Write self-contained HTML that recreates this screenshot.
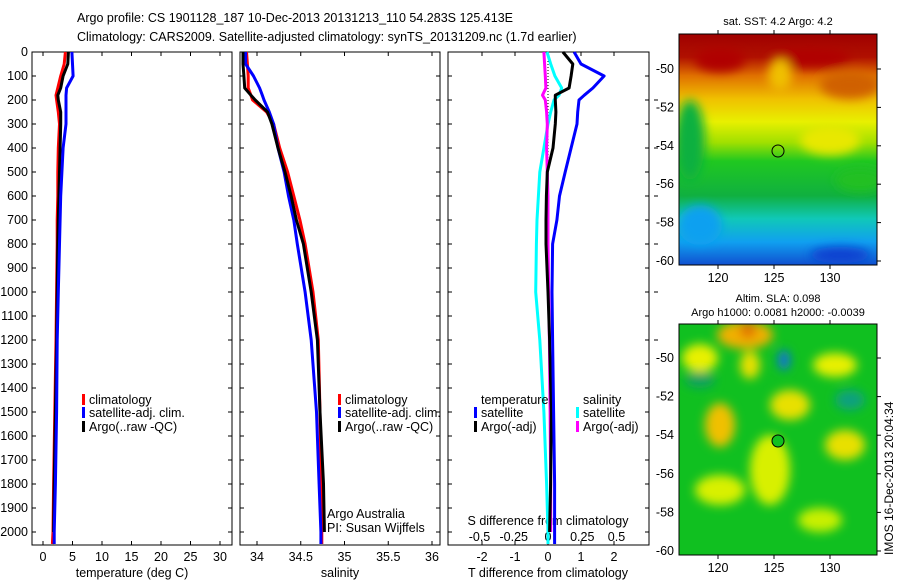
<!DOCTYPE html>
<html><head><meta charset="utf-8"><style>
body{margin:0;background:#fff;}
svg text{font-family:"Liberation Sans",sans-serif;font-size:12.5px;fill:#000;}
</style></head><body>
<svg id="c" width="900" height="580" viewBox="0 0 900 580" xmlns="http://www.w3.org/2000/svg">
<defs>
<linearGradient id="sst" x1="0" y1="0" x2="0" y2="1">
<stop offset="0" stop-color="#a00000"/><stop offset="0.1" stop-color="#b01000"/><stop offset="0.18" stop-color="#e07000"/><stop offset="0.28" stop-color="#f0c000"/><stop offset="0.38" stop-color="#e8f000"/><stop offset="0.47" stop-color="#a0e000"/><stop offset="0.55" stop-color="#20c820"/><stop offset="0.7" stop-color="#10b040"/><stop offset="0.8" stop-color="#10c8b8"/><stop offset="0.9" stop-color="#10a0f0"/><stop offset="1" stop-color="#1050d0"/>
</linearGradient>
<filter id="bl"><feGaussianBlur stdDeviation="5"/></filter>
<clipPath id="cm1"><rect x="679" y="34" width="198" height="231"/></clipPath>
<clipPath id="cm2"><rect x="679" y="324" width="198" height="231"/></clipPath>
</defs>
<text x="77" y="22">Argo profile: CS 1901128_187 10-Dec-2013 20131213_110 54.283S 125.413E</text>
<text x="77" y="41">Climatology: CARS2009. Satellite-adjusted climatology: synTS_20131209.nc (1.7d earlier)</text>
<g id="g"></g>
<!-- SST map -->
<text x="778" y="25" text-anchor="middle" font-size="11" style="font-size:11px">sat. SST: 4.2 Argo: 4.2</text>
<g clip-path="url(#cm1)">
<rect x="679" y="34" width="198" height="231" fill="url(#sst)"/>
<g filter="url(#bl)">
<ellipse cx="720" cy="60" rx="25" ry="12" fill="#b00000"/>
<ellipse cx="810" cy="58" rx="40" ry="10" fill="#b00000"/>
<ellipse cx="780" cy="75" rx="12" ry="16" fill="#f0c000"/>
<ellipse cx="850" cy="85" rx="30" ry="14" fill="#d06000"/>
<ellipse cx="690" cy="140" rx="15" ry="40" fill="#10b040"/>
<ellipse cx="830" cy="140" rx="30" ry="15" fill="#e8e800"/>
<ellipse cx="860" cy="180" rx="25" ry="12" fill="#20c020"/>
<ellipse cx="700" cy="225" rx="22" ry="20" fill="#10a0f0"/>
<ellipse cx="840" cy="255" rx="30" ry="8" fill="#1040d0"/>
</g>
</g>
<rect x="679" y="34" width="198" height="231" fill="none" stroke="#000"/>
<circle cx="778" cy="151" r="6" fill="none" stroke="#000"/>
<!-- SLA map -->
<text x="778" y="302" text-anchor="middle" style="font-size:11px">Altim. SLA: 0.098</text>
<text x="778" y="316" text-anchor="middle" style="font-size:11px">Argo h1000: 0.0081 h2000: -0.0039</text>
<g clip-path="url(#cm2)">
<rect x="679" y="324" width="198" height="231" fill="#10c020"/>
<g filter="url(#bl)">
<ellipse cx="745" cy="335" rx="28" ry="14" fill="#f0b000"/>
<ellipse cx="748" cy="330" rx="8" ry="8" fill="#e07000"/>
<ellipse cx="700" cy="358" rx="18" ry="14" fill="#e8f000"/>
<ellipse cx="750" cy="365" rx="10" ry="14" fill="#e8e000"/>
<ellipse cx="784" cy="360" rx="6" ry="10" fill="#1070e0"/>
<ellipse cx="835" cy="365" rx="22" ry="12" fill="#e8f000"/>
<ellipse cx="720" cy="425" rx="15" ry="22" fill="#f0c000"/>
<ellipse cx="790" cy="405" rx="20" ry="15" fill="#e8e000"/>
<ellipse cx="845" cy="445" rx="20" ry="15" fill="#e8e000"/>
<ellipse cx="770" cy="470" rx="20" ry="35" fill="#d8f000"/>
<ellipse cx="720" cy="490" rx="25" ry="15" fill="#d8f000"/>
<ellipse cx="820" cy="520" rx="22" ry="12" fill="#c8f000"/>
<ellipse cx="850" cy="400" rx="15" ry="10" fill="#10a080"/>
<ellipse cx="700" cy="380" rx="15" ry="8" fill="#10a060"/>
</g>
</g>
<rect x="679" y="324" width="198" height="231" fill="none" stroke="#000"/>
<circle cx="778" cy="441" r="6" fill="#10c020" stroke="#000"/>
<text transform="translate(893,555) rotate(-90)" style="font-size:12px">IMOS 16-Dec-2013 20:04:34</text>
</svg>
<script>
// depth axis
const depths=[0,50,100,150,180,200,250,300,400,500,600,700,800,1000,1200,1500,1800,2000,2050];
const depthTicks=[0,100,200,300,400,500,600,700,800,900,1000,1100,1200,1300,1400,1500,1600,1700,1800,1900,2000];
// temperature (deg C)
const tClim=[3.8,3.6,3.0,2.5,2.2,2.3,2.6,2.8,2.6,2.5,2.5,2.4,2.4,2.3,2.2,2.0,1.8,1.7,1.6];
const tSat=[4.9,5.0,5.1,4.0,3.9,3.9,3.9,3.9,3.4,3.2,3.0,2.9,2.8,2.6,2.4,2.3,2.1,1.9,1.9];
const tArgo=[4.3,4.2,3.4,3.0,2.5,2.6,3.0,3.0,2.9,2.8,2.7,2.6,2.5,2.4,2.3,2.1,1.9,1.8,null];
const tTicks=[0,5,10,15,20,25,30];
// salinity
const sClim=[33.88,33.89,33.90,33.90,33.93,33.95,34.11,34.19,34.26,34.35,34.42,34.49,34.55,34.64,34.70,34.72,34.73,34.74,34.74];
const sSat=[33.87,33.87,33.96,34.03,34.06,34.08,34.14,34.19,34.24,34.31,34.36,34.42,34.46,34.55,34.62,34.68,34.71,34.73,34.73];
const sArgo=[33.84,33.84,33.85,33.86,33.93,33.98,34.12,34.17,34.24,34.32,34.39,34.45,34.53,34.62,34.69,34.72,34.76,34.77,null];
const sTicks=[34,34.5,35,35.5,36];
// differences
const dTSat=[0.79,1.0,1.7,1.36,1.1,0.94,0.9,0.88,0.7,0.52,0.35,0.27,0.14,0.12,0.14,0.17,0.2,0.2,0.2];
const dTArgo=[0.45,0.75,0.7,0.64,0.22,0.22,0.24,0.22,0.15,-0.02,-0.05,-0.06,-0.06,0.0,0.05,0.1,0.08,0.05,null];
const dSSat=[-0.007,0.02,0.05,0.1,0.08,0.044,0.02,0.0,-0.03,-0.06,-0.07,-0.08,-0.085,-0.09,-0.06,-0.03,-0.01,0.0,0.0];
const dSArgo=[-0.03,-0.025,-0.02,-0.015,-0.04,-0.02,-0.01,-0.005,-0.01,-0.005,0.0,0.0,0.0,0.005,0.01,0.015,0.02,0.02,null];
const tdTicks=[-2,-1,0,1,2];
const sdTicks=[-0.5,-0.25,0,0.25,0.5];
const sdLabels=["-0.5","-0.25","0","0.25","0.5"];

const NS='http://www.w3.org/2000/svg';
const G=document.getElementById('g');
function mk(tag,at,txt){const e=document.createElementNS(NS,tag);for(const k in at)e.setAttribute(k,at[k]);if(txt!==undefined)e.textContent=txt;G.appendChild(e);return e;}
const yD=d=>52+d*0.24;
const xT=v=>43+v*5.9;
const xS=v=>257+(v-34)*87.5;
const xTD=v=>548+v*33;
const xSD=v=>548+v*137;
const TOP=52,BOT=545;
const panels=[[32,232],[240,440],[448,649]];
panels.forEach((p,i)=>{
  const r=mk('rect',{x:p[0],y:TOP,width:p[1]-p[0],height:BOT-TOP,fill:'none',stroke:'#000','stroke-width':1});
  
  
});
depthTicks.forEach(d=>{
  const y=yD(d);
  const t=mk('text',{x:28,y:y+4,'text-anchor':'end'},String(d));
  
  
  panels.forEach(p=>{mk('line',{x1:p[0],x2:p[0]+4,y1:y,y2:y,stroke:'#000'});mk('line',{x1:p[1]-4,x2:p[1],y1:y,y2:y,stroke:'#000'});});
  if(d%200===0&&d>0&&d<=1200) mk('line',{x1:654,x2:658,y1:y+ (d/100)*0,y2:y,stroke:'#000'});
});
function xticks(vals,labels,f,y0,ly){vals.forEach((v,i)=>{const x=f(v);mk('line',{x1:x,x2:x,y1:BOT-4,y2:BOT,stroke:'#000'});mk('line',{x1:x,x2:x,y1:TOP,y2:TOP+4,stroke:'#000'});
  const t=mk('text',{x:x,y:ly,'text-anchor':'middle'},labels[i]);
  
  });}
xticks(tTicks,tTicks.map(String),xT,0,561);
xticks(sTicks,sTicks.map(String),xS,0,561);
xticks(tdTicks,tdTicks.map(String),xTD,0,561);
sdTicks.forEach((v,i)=>{const t=mk('text',{x:xSD(v),y:541,'text-anchor':'middle'},sdLabels[i]);
  
  });
[['temperature (deg C)',132,'x-axis-title-temperature'],['salinity',340,'x-axis-title-salinity'],['T difference from climatology',548,'x-axis-title-tdiff']].forEach(a=>{
  const t=mk('text',{x:a[1],y:577,'text-anchor':'middle'},a[0]);
  
  });
const st=mk('text',{x:548,y:525,'text-anchor':'middle'},'S difference from climatology');


// zero dotted line
const z=mk('line',{x1:548,x2:548,y1:TOP,y2:yD(800),stroke:'#000','stroke-dasharray':'1,2'});


function series(vals,f,color,name){let pts=[];vals.forEach((v,i)=>{if(v!==null)pts.push(f(v).toFixed(1)+','+yD(depths[i]).toFixed(1));});
  const p=mk('polyline',{points:pts.join(' '),fill:'none',stroke:color,'stroke-width':3,'stroke-linejoin':'round'});
  
  }
series(tClim,xT,'#ff0000','temp-climatology');
series(tArgo,xT,'#000','temp-argo');
series(tSat,xT,'#0000ff','temp-satellite');
series(sClim,xS,'#ff0000','sal-climatology');
series(sSat,xS,'#0000ff','sal-satellite');
series(sArgo,xS,'#000','sal-argo');
series(dSSat,xSD,'#00ffff','sdiff-satellite');
series(dSArgo,xSD,'#ff00ff','sdiff-argo');
series(dTArgo,xTD,'#000','tdiff-argo');
series(dTSat,xTD,'#0000ff','tdiff-satellite');
function leg(x,y,c,txt,name){mk('rect',{x:x,y:y-10,width:3,height:11,fill:c});const t=mk('text',{x:x+7,y:y},txt);
  
  }
[[82,'legend-t'],[338,'legend-s']].forEach(a=>{
  leg(a[0],404,'#ff0000','climatology',a[1]+'-climatology');
  leg(a[0],417,'#0000ff','satellite-adj. clim.',a[1]+'-satellite');
  leg(a[0],431,'#000','Argo(..raw -QC)',a[1]+'-argo');});
const lt=mk('text',{x:481,y:404},'temperature');
const ls=mk('text',{x:583,y:404},'salinity');
leg(474,417,'#0000ff','satellite','legend-tdiff-satellite');
leg(474,431,'#000','Argo(-adj)','legend-tdiff-argo');
leg(576,417,'#00ffff','satellite','legend-sdiff-satellite');
leg(576,431,'#ff00ff','Argo(-adj)','legend-sdiff-argo');
const a1=mk('text',{x:327,y:518},'Argo Australia');
const a2=mk('text',{x:327,y:532},'PI: Susan Wijffels');
// map axes
function mapAxes(top,bot,y50,y60,prefix){
  const fy=l=>y50+(l-(-50))*(y60-y50)/(-10);
  [-50,-52,-54,-56,-58,-60].forEach(l=>{const y=fy(l);mk('line',{x1:679,x2:683,y1:y,y2:y,stroke:'#000'});mk('line',{x1:873,x2:881,y1:y,y2:y,stroke:'#000'});
    const t=mk('text',{x:674,y:y+4,'text-anchor':'end'},String(l));
    
    });
  [120,125,130].forEach(lo=>{const x=718+(lo-120)*11.2;mk('line',{x1:x,x2:x,y1:bot,y2:bot+4,stroke:'#000'});mk('line',{x1:x,x2:x,y1:top-4,y2:top,stroke:'#000'});
    const t=mk('text',{x:x,y:bot+17,'text-anchor':'middle'},String(lo));
    
    });
}
mapAxes(34,265,69,261,'sst');
mapAxes(324,555,358,551,'sla');
</script>
</body></html>
